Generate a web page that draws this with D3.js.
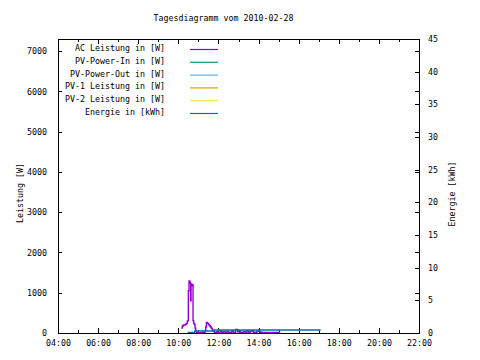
<!DOCTYPE html>
<html><head><meta charset="utf-8">
<script src="https://cdn.jsdelivr.net/npm/d3@7"></script>
<style>body{margin:0;background:#fff}svg{display:block}text{font-family:"DejaVu Sans Mono",monospace;font-size:8.3px;fill:#000}</style>
</head><body><svg id="c" width="480" height="360"></svg>
<script>
const title = "Tagesdiagramm vom 2010-02-28";
const xTickLabels = ["04:00","06:00","08:00","10:00","12:00","14:00","16:00","18:00","20:00","22:00"];
const yTicks = [0,1000,2000,3000,4000,5000,6000,7000];
const y2Ticks = [0,5,10,15,20,25,30,35,40,45];
const seriesNames = ["AC Leistung in [W]","PV-Power-In in [W]","PV-Power-Out in [W]","PV-1 Leistung in [W]","PV-2 Leistung in [W]","Energie in [kWh]"];
const seriesColors = ["#9400d3","#009e73","#56b4e9","#e69f00","#f0e442","#0072b2"];
const acTimes = ["10:09","10:12","10:15","10:18","10:21","10:24","10:27","10:30","10:32","10:34","10:36","10:37","10:38","10:40","10:42","10:44","10:46","10:48","10:50","10:52","10:54","10:57","11:00","11:05","11:10","11:15","11:20","11:22","11:24","11:27","11:30","11:33","11:36","11:39","11:42","11:45","11:48","11:51","11:55","12:00","12:05","12:10","12:15","12:20","12:25","12:30","12:35","12:40","12:45","12:51","12:54","12:57","13:00","13:05","13:10","13:15","13:20","13:25","13:30","13:35","13:40","13:45","13:50","13:55","14:00","14:05","14:10","14:15","14:20","14:25","14:30","14:35","14:40","14:45","14:50","14:55","15:00","15:05"];
const acValues = [120,175,200,200,210,240,300,1050,1290,1260,1230,800,1220,1180,1200,300,240,210,120,40,15,10,10,10,20,15,60,150,260,240,210,180,150,110,70,40,20,15,30,15,50,20,40,15,45,15,20,50,15,90,90,30,50,20,15,40,20,55,15,40,55,20,15,50,45,20,15,15,15,15,15,15,15,15,15,15,15,15];
const pvInTimes = [], pvInValues = [];
const pvOutTimes = [], pvOutValues = [];
const pv1Times = [], pv1Values = [];
const pv2Times = [], pv2Values = [];
const enTimes = ["10:28","10:49","11:48","17:06"];
const enValues = [0.1,0.3,0.46,0.46];

const hrs = s => { const [h,m] = s.split(":").map(Number); return h + m/60; };
const svg = d3.select("#c");
const L=58, R=419, T=39, B=333;
const x = d3.scaleLinear().domain([4,22]).range([L,R]);
const y = d3.scaleLinear().domain([0,7300]).range([B,T]);
const y2 = d3.scaleLinear().domain([0,45]).range([B,T]);

svg.append("text").attr("x",223.5).attr("y",17.5).attr("text-anchor","middle").attr("dominant-baseline","central").text(title);

function styleAxis(g){ g.select(".domain").remove(); g.selectAll("line").attr("stroke","#000").attr("shape-rendering","crispEdges"); g.selectAll("text").style("font-family","DejaVu Sans Mono, monospace").style("font-size","8.3px"); }
const majorX = xTickLabels.map(hrs);
const minorX = d3.range(5,22,2);
svg.append("g").attr("transform",`translate(0,${B})`).call(d3.axisBottom(x).tickValues(majorX).tickSize(-5).tickPadding(7).tickFormat((d,i)=>xTickLabels[i])).call(styleAxis);
svg.append("g").attr("transform",`translate(0,${B})`).call(d3.axisBottom(x).tickValues(minorX).tickSize(-3).tickFormat("")).call(styleAxis);
svg.append("g").attr("transform",`translate(0,${T})`).call(d3.axisTop(x).tickValues(majorX).tickSize(-5).tickFormat("")).call(styleAxis);
svg.append("g").attr("transform",`translate(0,${T})`).call(d3.axisTop(x).tickValues(minorX).tickSize(-3).tickFormat("")).call(styleAxis);
svg.append("g").attr("transform",`translate(${L},0)`).call(d3.axisLeft(y).tickValues(yTicks).tickSize(-4).tickPadding(11).tickFormat(d3.format("d"))).call(styleAxis);
svg.append("g").attr("transform",`translate(${R},0)`).call(d3.axisRight(y).tickValues(yTicks).tickSize(-4).tickFormat("")).call(styleAxis);
svg.append("g").attr("transform",`translate(${R},0)`).call(d3.axisRight(y2).tickValues(y2Ticks).tickSize(-4).tickPadding(9).tickFormat(d3.format("d"))).call(styleAxis);

svg.append("rect").attr("x",L+0.5).attr("y",T+0.5).attr("width",R-L).attr("height",B-T).attr("fill","none").attr("stroke","#000").attr("stroke-width",1);

svg.append("text").attr("transform","translate(20,193) rotate(-90)").attr("text-anchor","middle").attr("dominant-baseline","central").text("Leistung [W]");
svg.append("text").attr("transform","translate(452,194) rotate(-90)").attr("text-anchor","middle").attr("dominant-baseline","central").text("Energie [kWh]");

const lineW = d3.line().x(d=>x(hrs(d[0]))).y(d=>y(d[1])).curve(d3.curveStepAfter);
const lineE = d3.line().x(d=>x(hrs(d[0]))).y(d=>y2(d[1])).curve(d3.curveStepAfter);
const sets = [[acTimes,acValues,lineW],[pvInTimes,pvInValues,lineW],[pvOutTimes,pvOutValues,lineW],[pv1Times,pv1Values,lineW],[pv2Times,pv2Values,lineW],[enTimes,enValues,lineE]];
sets.forEach((s,i)=>{
  const data = s[0].map((t,j)=>[t,s[1][j]]);
  if(!data.length) return;
  svg.append("path").datum(data).attr("d",s[2]).attr("fill","none").attr("stroke",seriesColors[i]).attr("stroke-width",1.4);
});

const leg = svg.append("g");
seriesNames.forEach((n,i)=>{
  const yy = 48 + i*12.8;
  leg.append("text").attr("x",165).attr("y",yy).attr("text-anchor","end").attr("dominant-baseline","central").text(n);
  leg.append("line").attr("x1",190).attr("x2",218).attr("y1",yy+1.5).attr("y2",yy+1.5).attr("stroke",seriesColors[i]).attr("stroke-width",1.2);
});
</script></body></html>
